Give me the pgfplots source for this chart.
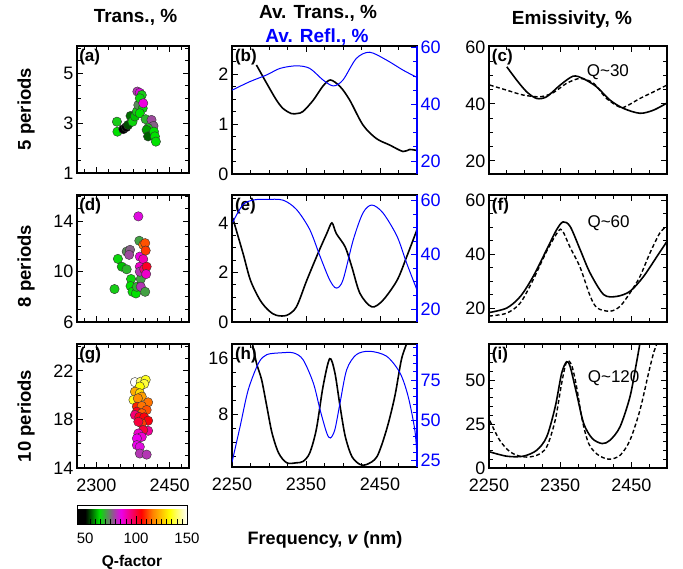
\documentclass[border=0pt]{standalone}
\usepackage{fontspec}
\setmainfont{Liberation Sans}
\usepackage{pgfplots}
\pgfplotsset{compat=1.18}
\pgfplotsset{
  colormap={qmap}{rgb255(0pt)=(0,0,0); rgb255(8pt)=(0,0,0); rgb255(22pt)=(0,225,0); rgb255(43pt)=(235,0,235); rgb255(63pt)=(255,0,0); rgb255(74pt)=(255,128,0); rgb255(91pt)=(255,255,0); rgb255(108pt)=(255,255,255)},
  base/.style={scale only axis, anchor=north west,
    axis line style={line width=1.6pt},
    tick align=inside, major tick length=6pt, minor tick length=4pt,
    every tick/.style={line width=0.9pt, black},
    tick label style={font=\fontsize{18}{20}\selectfont},
    xticklabel style={yshift=-7pt},
    /pgf/number format/assume math mode=true,
    /pgf/number format/1000 sep={}},
  scat/.style={scatter, only marks, mark=*, mark size=4.7pt, scatter src=explicit,
    scatter/use mapped color={draw=black!80, fill=mapped color}},
}
\tikzset{
  plab/.style={font=\bfseries\fontsize{17}{18}\selectfont, anchor=north west, inner sep=1pt},
  tlab/.style={font=\bfseries\fontsize{19}{21}\selectfont},
}
\begin{document}
\begin{tikzpicture}
\useasboundingbox (0,0) rectangle (683pt,-569pt);
% titles
\node[tlab] at (135.5pt,-17.5pt) {Trans., \%};
\node[tlab] at (318pt,-13pt) {Av. Trans., \%};
\node[tlab, text=blue] at (317pt,-37pt) {Av. Refl., \%};
\node[tlab] at (572pt,-20pt) {Emissivity, \%};
\node[tlab, rotate=90, font=\bfseries\fontsize{18.5}{20}\selectfont] at (26pt,-109pt) {5 periods};
\node[tlab, rotate=90, font=\bfseries\fontsize{18.5}{20}\selectfont] at (26pt,-266pt) {8 periods};
\node[tlab, rotate=90, font=\bfseries\fontsize{18.5}{20}\selectfont] at (26pt,-416pt) {10 periods};
\node[font=\bfseries\fontsize{18}{20}\selectfont] at (325pt,-540pt) {Frequency, \textit{v} (nm)};

% ---------- (a)
\begin{axis}[base, at={(77pt,-46pt)}, width=112pt, height=127pt,
  xmin=2260, xmax=2490, ymin=1, ymax=6.1,
  xtick={2300,2450}, xticklabels={}, minor xtick={2275,2300,...,2475},
  ytick={1,3,5}, minor ytick={1.5,2,...,6},
  colormap name=qmap, point meta min=42, point meta max=150]
\addplot[scat] table[meta=q] {
x y q
2342 3.06 66
2343 2.66 64
2355 2.76 45
2361 2.84 46
2365 2.93 55
2370 3.29 57
2374 3.06 65
2379 3.27 62
2383 3.47 66
2386 3.73 72
2395 3.60 65
2389 3.40 64
2384 4.27 80
2389 4.22 84
2393 4.13 66
2389 4.00 65
2396 3.80 86
2401 3.16 68
2413 3.13 78
2417 2.89 76
2406 2.80 66
2403 2.73 60
2406 2.47 56
2418 2.66 64
2420 2.47 64
2422 2.26 64
};
\node[plab] at (rel axis cs:0.01,0.985) {(a)};
\end{axis}

% ---------- (d)
\begin{axis}[base, at={(77pt,-195pt)}, width=112pt, height=127pt,
  xmin=2260, xmax=2490, ymin=6, ymax=16.1,
  xtick={2300,2450}, xticklabels={}, minor xtick={2275,2300,...,2475},
  ytick={6,10,14}, minor ytick={7,8,...,16},
  colormap name=qmap, point meta min=42, point meta max=150]
\addplot[scat] table[meta=q] {
x y q
2337 8.62 66
2344 11.02 65
2352 10.40 62
2362 10.19 68
2362 11.60 72
2369 11.74 76
2367 11.34 78
2371 9.42 65
2370 8.86 64
2374 8.40 64
2381 8.27 64
2383 8.80 68
2386 14.40 84
2388 12.46 70
2391 9.42 70
2389 11.20 86
2389 10.40 88
2389 10.00 80
2391 8.80 80
2396 12.14 115
2400 12.27 112
2401 11.68 110
2396 11.00 90
2398 10.20 95
2403 10.40 102
2402 9.81 88
2400 8.40 70
};
\node[plab] at (rel axis cs:0.01,0.985) {(d)};
\end{axis}

% ---------- (g)
\begin{axis}[base, at={(77pt,-344pt)}, width=112pt, height=124pt,
  xmin=2260, xmax=2490, ymin=14, ymax=24.2,
  xtick={2300,2450}, minor xtick={2275,2300,...,2475},
  ytick={14,18,22}, minor ytick={15,16,...,24},
  colormap name=qmap, point meta min=42, point meta max=150,
  colorbar horizontal,
  colorbar style={at={(0,-0.3)}, anchor=north west, scale only axis,
    width=110pt, height=19pt,
    axis line style={line width=1pt},
    xtick={50,100,150}, minor xtick={45,50,...,150},
    xtick pos=left, tick align=inside,
    major tick length=8pt, minor tick length=5pt,
    every tick/.style={line width=0.6pt, black},
    tick label style={font=\fontsize{15}{16}\selectfont},
    xticklabel style={yshift=-5pt},
    /pgf/number format/assume math mode=true,
    xlabel={Q-factor},
    xlabel style={font=\bfseries\fontsize{15.5}{16}\selectfont, yshift=-5pt}}]
\addplot[scat] table[meta=q] {
x y q
2379 21.06 150
2391 21.10 140
2401 21.25 135
2398 20.92 137
2389 20.70 133
2379 20.28 122
2389 20.15 128
2376 19.60 135
2393 19.87 120
2385 19.73 118
2406 19.40 115
2383 19.04 108
2393 19.10 115
2403 18.77 112
2383 18.63 103
2393 18.50 113
2379 18.36 95
2388 18.20 102
2398 18.17 104
2406 17.89 104
2393 17.67 110
2386 17.80 100
2406 17.06 92
2396 17.12 100
2386 16.84 88
2393 16.56 87
2383 16.43 85
2383 15.88 85
2389 15.74 84
2389 15.19 80
2403 15.10 80
};
\node[plab] at (rel axis cs:0.01,0.985) {(g)};
\end{axis}

% ---------- (b)
\begin{axis}[base, at={(232pt,-46pt)}, width=185pt, height=128pt,
  xmin=2250, xmax=2500, ymin=0, ymax=2.56,
  xtick={2250,2350,2450}, xticklabels={}, minor xtick={2275,2300,...,2475},
  ytick={0,1,2}, minor ytick={0.25,0.5,...,2.5}, ytick pos=left]
\addplot[black, line width=1.6pt, smooth] coordinates {
(2283,2.18) (2297,1.81) (2310,1.48) (2319,1.31) (2330,1.21) (2338,1.21) (2346,1.25)
(2360,1.48) (2373,1.76) (2383,1.88) (2396,1.75) (2409,1.48) (2427,0.98) (2445,0.71)
(2463,0.58) (2481,0.45) (2490,0.49) (2500,0.47)};
\node[plab] at (rel axis cs:0.01,0.985) {(b)};
\end{axis}
\begin{axis}[base, at={(232pt,-46pt)}, width=185pt, height=128pt,
  xmin=2250, xmax=2500, ymin=15.4, ymax=60.6,
  axis x line=none, axis y line*=right,
  y axis line style={blue, line width=1.6pt},
  every tick/.style={line width=0.9pt, blue},
  yticklabel style={text=blue},
  ytick={20,40,60}, minor ytick={25,30,...,55}]
\addplot[blue, line width=1pt, smooth] coordinates {
(2250,45.0) (2274,48.0) (2297,50.4) (2315,52.7) (2337,53.6) (2355,52.7) (2373,48.6)
(2387,46.5) (2400,48.6) (2418,56.2) (2436,58.4) (2459,55.6) (2481,52.1) (2500,49.5)};
\end{axis}

% ---------- (e)
\begin{axis}[base, at={(232pt,-195pt)}, width=185pt, height=127pt,
  xmin=2250, xmax=2500, ymin=0, ymax=5.13,
  xtick={2250,2350,2450}, xticklabels={}, minor xtick={2275,2300,...,2475},
  ytick={0,2,4}, minor ytick={0.5,1,...,5}, ytick pos=left]
\addplot[black, line width=1.6pt, smooth] coordinates {
(2251,4.2) (2265,2.76) (2275,1.68) (2288,0.88) (2300,0.45) (2310,0.27) (2324,0.27) (2337,0.61)
(2351,1.68) (2367,2.83) (2378,3.57) (2385,4.0) (2391,3.57) (2403,3.03) (2412,2.22)
(2423,1.15) (2439,0.61) (2454,0.88) (2473,1.68) (2486,2.63) (2500,3.73)};
\node[plab] at (rel axis cs:0.01,0.985) {(e)};
\end{axis}
\begin{axis}[base, at={(232pt,-195pt)}, width=185pt, height=127pt,
  xmin=2250, xmax=2500, ymin=15.2, ymax=62,
  axis x line=none, axis y line*=right,
  y axis line style={blue, line width=1.6pt},
  every tick/.style={line width=0.9pt, blue},
  yticklabel style={text=blue},
  ytick={20,40,60}, minor ytick={25,30,...,55}]
\addplot[blue, line width=1pt, smooth] coordinates {
(2251,52) (2265,58.5) (2280,60.2) (2297,60.4) (2319,60.1) (2337,56.7) (2355,49.3) (2369,39.4)
(2382,30.7) (2391,27.7) (2400,30.7) (2414,45.6) (2427,55.4) (2439,58.3) (2454,55.4)
(2473,46.8) (2486,36.9) (2500,27)};
\end{axis}

% ---------- (h)
\begin{axis}[base, at={(232pt,-344pt)}, width=185pt, height=123pt,
  xmin=2250, xmax=2500, ymin=0.5, ymax=18.1,
  xtick={2250,2350,2450}, minor xtick={2275,2300,...,2475},
  ytick={8,16}, minor ytick={2,4,...,18}, ytick pos=left]
\addplot[black, line width=1.6pt, smooth] coordinates {
(2276,19) (2283,15.4) (2290,13) (2297,9.2) (2304,5.4) (2313,2.5) (2324,1.1) (2337,1.1) (2346,1.3)
(2355,2.5) (2364,5.9) (2373,12) (2382,16) (2389,14) (2396,9.2) (2403,4.9) (2412,2.0)
(2423,0.86) (2432,0.86) (2446,2.0) (2459,5.9) (2470,10.6) (2479,15.9) (2487,18.5) (2492,21)};
\node[plab] at (rel axis cs:0.01,0.985) {(h)};
\end{axis}
\begin{axis}[base, at={(232pt,-344pt)}, width=185pt, height=123pt,
  xmin=2250, xmax=2500, ymin=21.1, ymax=97.3,
  axis x line=none, axis y line*=right,
  y axis line style={blue, line width=1.6pt},
  every tick/.style={line width=0.9pt, blue},
  yticklabel style={text=blue},
  ytick={25,50,75}, minor ytick={30,35,...,95}]
\addplot[blue, line width=1pt, smooth] coordinates {
(2250,24) (2261,46.3) (2272,69) (2286,85.6) (2297,90.7) (2315,91.8) (2333,91.8) (2346,87.6)
(2360,73) (2369,56.6) (2378,42.2) (2383,39.1) (2389,44.2) (2396,60.8) (2405,81.4)
(2418,90.7) (2436,92.8) (2459,89.7) (2477,79.4) (2488,64.9) (2497,44.2) (2500,27.7)};
\end{axis}

% ---------- (c)
\begin{axis}[base, at={(489pt,-46pt)}, width=178pt, height=128pt,
  xmin=2250, xmax=2500, ymin=15.4, ymax=60.3,
  xtick={2250,2350,2450}, xticklabels={}, minor xtick={2275,2300,...,2475},
  ytick={20,40,60}, minor ytick={25,30,...,55}]
\addplot[black, line width=1.6pt, smooth] coordinates {
(2275,53) (2289,48.3) (2303,44.2) (2317,41.9) (2331,42.5) (2350,46.6) (2368,49.7) (2382,48.9)
(2401,46) (2420,41.3) (2439,38.4) (2462,36.7) (2481,37.8) (2500,40.3)};
\addplot[black, line width=1.4pt, dash pattern=on 4pt off 2.5pt, smooth] coordinates {
(2251,46.6) (2275,44.8) (2298,43.1) (2322,42.5) (2340,43.9) (2359,47.2) (2378,48.9) (2397,47.2)
(2415,41.9) (2434,38.8) (2443,39.2) (2462,41.9) (2481,44.2) (2500,46.6)};
\node[font=\fontsize{17}{18}\selectfont] at (axis cs:2417,51.2) {Q\textasciitilde30};
\node[plab] at (rel axis cs:0.01,0.985) {(c)};
\end{axis}

% ---------- (f)
\begin{axis}[base, at={(489pt,-195pt)}, width=178pt, height=127pt,
  xmin=2250, xmax=2500, ymin=14.8, ymax=62,
  xtick={2250,2350,2450}, xticklabels={}, minor xtick={2275,2300,...,2475},
  ytick={20,40,60}, minor ytick={25,30,...,55}]
\addplot[black, line width=1.6pt, smooth] coordinates {
(2250,18.3) (2275,20) (2294,24.3) (2312,31.7) (2331,41.7) (2345,49.1) (2354,52) (2364,50.3)
(2378,41.7) (2392,33) (2411,25) (2429,24.3) (2448,26.2) (2467,31.7) (2486,39.2) (2500,44.8)};
\addplot[black, line width=1.4pt, dash pattern=on 4pt off 2.5pt, smooth] coordinates {
(2250,17.0) (2275,18.1) (2294,21.9) (2312,30.5) (2331,41.1) (2347,48.4) (2353,48.8) (2364,42.5)
(2378,35.1) (2392,24.5) (2402,20) (2420,18.8) (2434,20.6) (2448,25.6) (2462,31.7)
(2476,40.4) (2490,47.9) (2500,50.4)};
\node[font=\fontsize{17}{18}\selectfont] at (axis cs:2418,51.6) {Q\textasciitilde60};
\node[plab] at (rel axis cs:0.01,0.985) {(f)};
\end{axis}

% ---------- (i)
\begin{axis}[base, at={(489pt,-344pt)}, width=178pt, height=124pt,
  xmin=2250, xmax=2500, ymin=0, ymax=70.5,
  xtick={2250,2350,2450}, minor xtick={2275,2300,...,2475},
  ytick={0,25,50}, minor ytick={5,10,...,70}]
\addplot[black, line width=1.6pt, smooth] coordinates {
(2250,9.3) (2275,6.7) (2298,6.7) (2317,10.1) (2331,17.7) (2343,34.8) (2352,53.8) (2359,60.4)
(2364,57.6) (2373,42.4) (2383,25.3) (2395,16.8) (2409,13.9) (2420,15.8) (2434,23.4)
(2448,40.5) (2457,59.5) (2462,70.9) (2466,80)};
\addplot[black, line width=1.4pt, dash pattern=on 4pt off 2.5pt, smooth] coordinates {
(2251,27) (2265,15.8) (2280,9.1) (2298,6.3) (2317,7.2) (2331,12) (2343,27.2) (2352,48.1)
(2359,60.4) (2366,58.5) (2373,46.2) (2381,27.2) (2390,13.9) (2402,7.8) (2418,5)
(2434,7.2) (2448,15.8) (2462,32.9) (2474,53.8) (2481,65.2) (2486,70.9) (2490,78)};
\node[font=\fontsize{17}{18}\selectfont] at (axis cs:2425,51) {Q\textasciitilde120};
\node[plab] at (rel axis cs:0.01,0.985) {(i)};
\end{axis}
\end{tikzpicture}
\end{document}
